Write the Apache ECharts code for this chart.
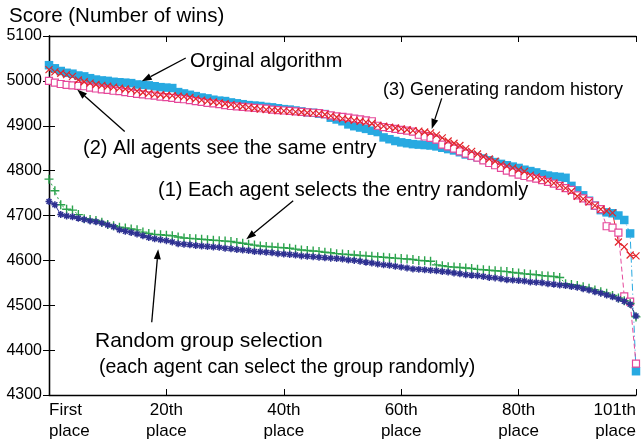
<!DOCTYPE html>
<html>
<head>
<meta charset="utf-8">
<script src="https://cdn.jsdelivr.net/npm/echarts@6/dist/echarts.min.js"></script>
<style>
  html, body { margin: 0; padding: 0; background: #fff; }
  #chart { width: 643px; height: 442px; }
</style>
</head>
<body>
<div id="chart"></div>
<script>
// Final ranking scores (number of wins) for places 1..101, one array per method.
const originalAlgorithm = [
  5035, 5028, 5022, 5018, 5016, 5012, 5010, 5006, 5003, 5001,
  5000, 4998, 4997, 4996, 4995, 4992, 4991, 4990, 4988, 4986,
  4985, 4984, 4975, 4972, 4969, 4966, 4963, 4961, 4958, 4956,
  4955, 4952, 4950, 4948, 4946, 4945, 4944, 4942, 4941, 4939,
  4937, 4936, 4934, 4932, 4930, 4929, 4927, 4926, 4918, 4914,
  4910, 4903, 4899, 4896, 4893, 4889, 4886, 4874, 4870, 4866,
  4863, 4861, 4859, 4858, 4857, 4856, 4854, 4851, 4848, 4845,
  4841, 4836, 4833, 4830, 4827, 4823, 4819, 4815, 4812, 4809,
  4806, 4802, 4799, 4796, 4792, 4789, 4787, 4786, 4784, 4766,
  4756, 4745, 4733, 4722, 4712, 4707, 4705, 4700, 4690, 4660,
  4353
];
const sameEntry = [
  5000, 4996, 4993, 4991, 4990, 4989, 4988, 4985, 4983, 4981,
  4980, 4978, 4977, 4975, 4973, 4971, 4970, 4968, 4967, 4965,
  4964, 4962, 4960, 4959, 4957, 4955, 4953, 4951, 4950, 4948,
  4946, 4944, 4943, 4942, 4941, 4940, 4939, 4938, 4936, 4935,
  4934, 4933, 4932, 4931, 4930, 4929, 4928, 4926, 4923, 4921,
  4920, 4918, 4916, 4914, 4912, 4910, 4900, 4897, 4895, 4893,
  4891, 4889, 4887, 4880, 4876, 4873, 4869, 4858, 4854, 4849,
  4843, 4838, 4833, 4829, 4823, 4817, 4812, 4806, 4800, 4796,
  4791, 4788, 4785, 4782, 4779, 4775, 4771, 4766, 4761, 4757,
  4745, 4738, 4732, 4722, 4714, 4676, 4673, 4662, 4520, 4508,
  4370
];
const randomHistory = [
  5025, 5020, 5017, 5014, 5010, 5002, 4998, 4995, 4992, 4990,
  4988, 4986, 4984, 4982, 4980, 4977, 4974, 4972, 4970, 4969,
  4968, 4967, 4966, 4965, 4963, 4960, 4957, 4955, 4953, 4951,
  4949, 4947, 4945, 4943, 4941, 4939, 4937, 4936, 4935, 4934,
  4933, 4932, 4931, 4930, 4929, 4928, 4927, 4925, 4922, 4919,
  4916, 4914, 4912, 4910, 4908, 4905, 4901, 4899, 4897, 4895,
  4893, 4891, 4889, 4888, 4886, 4884, 4879, 4873, 4866, 4861,
  4856, 4849, 4843, 4837, 4831, 4826, 4821, 4814, 4810, 4806,
  4802, 4798, 4790, 4786, 4781, 4777, 4772, 4767, 4761, 4754,
  4743, 4737, 4730, 4722, 4714, 4710, 4706, 4641, 4630, 4612,
  4610
];
const randomEntry = [
  4781, 4755, 4724, 4714, 4712, 4702, 4693, 4691, 4689, 4685,
  4680, 4677, 4674, 4672, 4670, 4668, 4663, 4660, 4658, 4657,
  4656, 4655, 4652, 4650, 4649, 4648, 4647, 4646, 4645, 4644,
  4643, 4642, 4640, 4638, 4636, 4634, 4632, 4631, 4630, 4629,
  4628, 4627, 4625, 4623, 4622, 4621, 4620, 4618, 4617, 4615,
  4614, 4613, 4612, 4611, 4610, 4609, 4608, 4607, 4606, 4605,
  4604, 4603, 4602, 4600, 4599, 4598, 4590, 4588, 4586, 4585,
  4584, 4583, 4582, 4580, 4579, 4578, 4577, 4576, 4575, 4573,
  4572, 4570, 4569, 4568, 4566, 4565, 4564, 4562, 4548, 4546,
  4544, 4541, 4538, 4534, 4530, 4527, 4522, 4516, 4510, 4504,
  4474
];
const randomGroup = [
  4731, 4724, 4702, 4699, 4697, 4694, 4691, 4688, 4686, 4683,
  4679, 4675, 4668, 4665, 4662, 4659, 4655, 4651, 4648, 4646,
  4644, 4641, 4637, 4636, 4635, 4633, 4632, 4631, 4630, 4629,
  4627, 4626, 4624, 4623, 4622, 4620, 4619, 4618, 4617, 4615,
  4614, 4613, 4612, 4610, 4609, 4608, 4607, 4606, 4605, 4604,
  4603, 4601, 4600, 4598, 4596, 4594, 4592, 4590, 4589, 4587,
  4585, 4583, 4581, 4580, 4579, 4578, 4577, 4575, 4574, 4572,
  4570, 4568, 4567, 4566, 4564, 4562, 4561, 4559, 4557, 4556,
  4555, 4554, 4552, 4551, 4550, 4548, 4547, 4545, 4544, 4542,
  4540, 4537, 4534, 4530, 4527, 4523, 4519, 4514, 4509, 4502,
  4476
];

// Bottom axis tick labels at places 0, 20, 40, 60, 80, 100 (index of place)
const placeTickLabels = ['First\nplace', '20th\nplace', '40th\nplace', '60th\nplace', '80th\nplace', '101th\nplace'];

// Annotations: label text, font size, where the text sits, and arrow from/to in (place index, score)
const annotations = [
  { text: 'Orginal algorithm', size: 20, left: 190, top: 62, from: [23.3, 5051], to: [15.8, 4999] },
  { text: '(2) All agents see the same entry', size: 20, left: 83, top: 149, from: [12.9, 4887], to: [4.8, 4981] },
  { text: '(3) Generating random history', size: 18, left: 383, top: 91, from: [66.9, 4961], to: [65.2, 4893] },
  { text: '(1) Each agent selects the entry randomly', size: 20, left: 158, top: 191, from: [41.6, 4733], to: [33.6, 4647] },
  { text: 'Random group selection', size: 21, left: 95, top: 342, from: [17.5, 4462], to: [18.6, 4625] },
  { text: '(each agent can select the group randomly)', size: 19.5, left: 99, top: 368, from: null, to: null }
];

const FONT = '"Liberation Sans", Arial, Helvetica, sans-serif';
const toPairs = arr => arr.map((v, i) => [i, v]);

const SYM_X = 'path://M0,0L10,10M10,0L0,10';
const SYM_PLUS = 'path://M5,0L5,10M0,5L10,5';
const SYM_STAR = 'path://M5,0L5,10M0,5L10,5M1.5,1.5L8.5,8.5M8.5,1.5L1.5,8.5';

const chart = echarts.init(document.getElementById('chart'), null, { renderer: 'canvas' });

const frameLine = { show: true, lineStyle: { color: '#000', width: 1.3 } };
const innerTick = { show: true, inside: true, length: 6, lineStyle: { color: '#000', width: 1 } };

chart.setOption({
  animation: false,
  backgroundColor: '#fff',
  textStyle: { fontFamily: FONT },
  title: {
    text: 'Score (Number of wins)',
    left: 4, top: 1,
    textStyle: { fontFamily: FONT, fontSize: 20.5, fontWeight: 'normal', color: '#000' }
  },
  grid: { left: 49, right: 7, top: 36, bottom: 42, containLabel: false },
  xAxis: [
    {
      type: 'value', min: 0, max: 100, interval: 20, position: 'bottom',
      axisLine: frameLine, axisTick: innerTick, splitLine: { show: false },
      axisLabel: {
        show: true, color: '#000', fontFamily: FONT, fontSize: 17, lineHeight: 21, margin: 5,
        alignMinLabel: 'left', alignMaxLabel: 'right',
        formatter: v => placeTickLabels[Math.round(v / 20)]
      }
    },
    {
      type: 'value', min: 0, max: 100, interval: 20, position: 'top',
      axisLine: frameLine, axisTick: innerTick, axisLabel: { show: false }, splitLine: { show: false }
    }
  ],
  yAxis: [
    {
      type: 'value', min: 4300, max: 5100, interval: 100, position: 'left',
      axisLine: frameLine, axisTick: innerTick, splitLine: { show: false },
      axisLabel: { color: '#000', fontFamily: FONT, fontSize: 16, margin: 7, formatter: v => String(v) }
    },
    {
      type: 'value', min: 4300, max: 5100, interval: 100, position: 'right',
      axisLine: frameLine, axisTick: innerTick, axisLabel: { show: false }, splitLine: { show: false }
    }
  ],
  series: [
    {
      name: 'Orginal algorithm', type: 'line', data: toPairs(originalAlgorithm),
      symbol: 'rect', symbolSize: 8.5,
      itemStyle: { color: '#27a9e1' },
      lineStyle: { color: '#27a9e1', width: 1, type: [7, 3, 1, 3] }
    },
    {
      name: '(2) All agents see the same entry', type: 'line', data: toPairs(sameEntry),
      symbol: 'rect', symbolSize: 7,
      itemStyle: { color: '#fff', borderColor: '#e5489b', borderWidth: 1.2 },
      lineStyle: { color: '#e5489b', width: 1, type: [5, 3] }
    },
    {
      name: '(3) Generating random history', type: 'line', data: toPairs(randomHistory),
      symbol: SYM_X, symbolSize: 7,
      itemStyle: { color: 'rgba(0,0,0,0)', borderColor: '#e2252b', borderWidth: 1.2 },
      lineStyle: { color: '#e2252b', width: 1 }
    },
    {
      name: '(1) Each agent selects the entry randomly', type: 'line', data: toPairs(randomEntry),
      symbol: SYM_PLUS, symbolSize: 9,
      itemStyle: { color: 'rgba(0,0,0,0)', borderColor: '#2ba34c', borderWidth: 1.4 },
      lineStyle: { color: '#2ba34c', width: 1, type: [2, 3] }
    },
    {
      name: 'Random group selection', type: 'line', data: toPairs(randomGroup),
      symbol: SYM_STAR, symbolSize: 7,
      itemStyle: { color: 'rgba(0,0,0,0)', borderColor: '#2e3192', borderWidth: 1.5 },
      lineStyle: { color: '#2e3192', width: 1 }
    }
  ]
});

// Annotation labels and arrows, placed through the axes' own coordinate conversion
function arrowGraphics(p0, p1) {
  const ang = Math.atan2(p1[1] - p0[1], p1[0] - p0[0]);
  const len = 10, half = 3.5;
  const bx = p1[0] - len * Math.cos(ang), by = p1[1] - len * Math.sin(ang);
  const nx = -Math.sin(ang) * half, ny = Math.cos(ang) * half;
  return [
    { type: 'line', shape: { x1: p0[0], y1: p0[1], x2: bx, y2: by }, style: { stroke: '#000', lineWidth: 1.3 }, z: 100 },
    { type: 'polygon', shape: { points: [[p1[0], p1[1]], [bx + nx, by + ny], [bx - nx, by - ny]] }, style: { fill: '#000' }, z: 100 }
  ];
}

const elements = [];
annotations.forEach(a => {
  elements.push({
    type: 'text', left: a.left, top: a.top - a.size * 0.55, z: 100,
    style: { text: a.text, fill: '#000', font: a.size + 'px ' + FONT }
  });
  if (a.from && a.to) {
    const p0 = chart.convertToPixel({ gridIndex: 0 }, a.from);
    const p1 = chart.convertToPixel({ gridIndex: 0 }, a.to);
    elements.push(...arrowGraphics(p0, p1));
  }
});
chart.setOption({ graphic: { elements } });
</script>
</body>
</html>
